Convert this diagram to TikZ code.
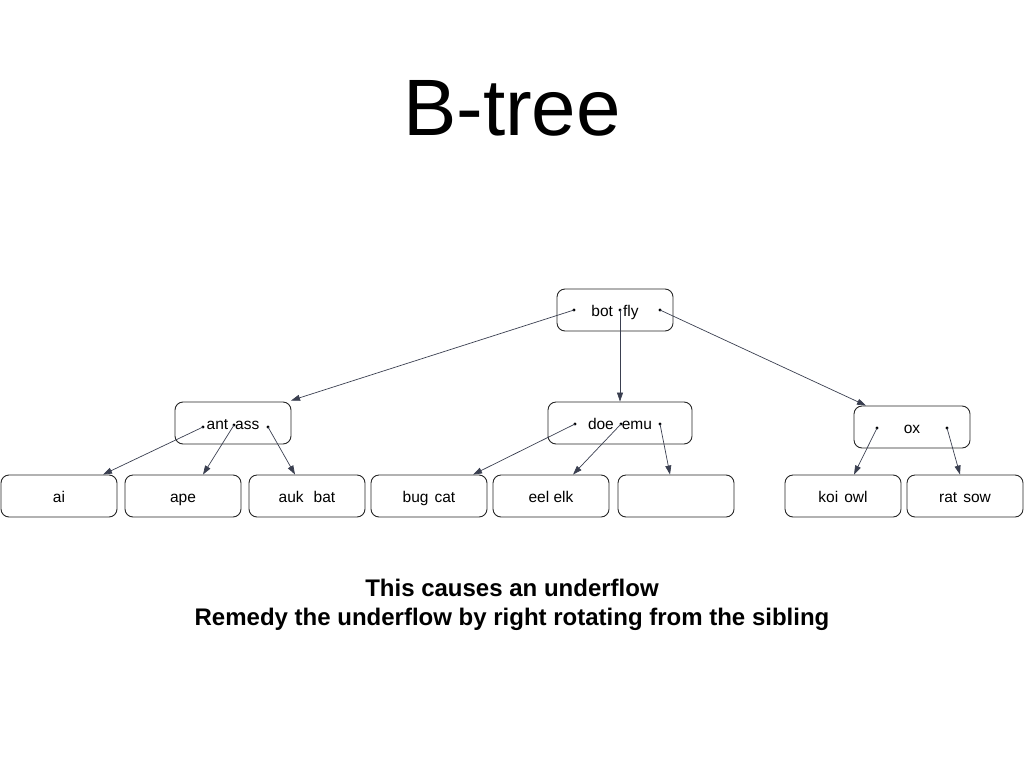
\documentclass[tikz,border=0pt]{standalone}
\usepackage{fontspec}
\setmainfont{Liberation Sans}
\usetikzlibrary{arrows.meta}
\definecolor{arr}{HTML}{3A3F50}
\tikzset{
  box/.style={draw=black!85, line width=0.9pt, rounded corners=8pt, minimum height=42pt, inner sep=0pt, text height=14pt, text depth=2pt, font=\fontsize{15.5}{17}\selectfont},
  leaf/.style={box, minimum width=116pt},
  ptr/.style={-{Triangle[length=9pt,width=6pt]}, line width=0.7pt, color=arr},
  pdot/.style={circle, fill=black, inner sep=0pt, minimum size=3.2pt}
}
\begin{document}
\begin{tikzpicture}[x=1pt,y=-1pt]
\useasboundingbox (0,0) rectangle (1024,768);
\node[font=\fontsize{80}{90}\selectfont] (title) at (512,108) {B-tree};
% internal nodes
\node[box, minimum width=116pt] (root) at (615,310) {bot\hspace{10pt}fly};
\node[box, minimum width=116pt] (na) at (233,423) {ant\hspace{7pt}ass\hspace{12pt}};
\node[box, minimum width=144pt] (nd) at (620,423) {doe\hspace{8pt}emu};
\node[box, minimum width=116pt] (no) at (912,427) {ox};
% leaves
\node[leaf] (ai) at (59,496) {ai};
\node[leaf] (ape) at (183,496) {ape};
\node[leaf] (aukbat) at (307,496) {auk\hspace{10pt}bat};
\node[leaf] (bugcat) at (429,496) {bug\hspace{6pt}cat};
\node[leaf] (eelelk) at (551,496) {eel elk};
\node[leaf] (empty) at (676,496) {};
\node[leaf] (koiowl) at (843,496) {koi\hspace{6pt}owl};
\node[leaf] (ratsow) at (965,496) {rat\hspace{6pt}sow};
% pointer dots
\node[pdot] (r1) at (574,310) {};
\node[pdot] (r2) at (620,310) {};
\node[pdot] (r3) at (660,310) {};
\node[pdot] (a1) at (203,427) {};
\node[pdot] (a2) at (234,425) {};
\node[pdot] (a3) at (268,427) {};
\node[pdot] (d1) at (575,424) {};
\node[pdot] (d2) at (621,424) {};
\node[pdot] (d3) at (660,424) {};
\node[pdot] (o1) at (877,428) {};
\node[pdot] (o2) at (947,428) {};
% connectors
\draw[ptr] (r1.center) -- ([xshift=58pt,yshift=1pt]na.north);
\draw[ptr] (r2.center) -- (nd.north);
\draw[ptr] (r3.center) -- ([xshift=-46pt]no.north);
\draw[ptr] (a1.center) -- ([xshift=44pt]ai.north);
\draw[ptr] (a2.center) -- ([xshift=20pt]ape.north);
\draw[ptr] (a3.center) -- ([xshift=-12pt]aukbat.north);
\draw[ptr] (d1.center) -- ([xshift=44pt]bugcat.north);
\draw[ptr] (d2.center) -- ([xshift=22pt]eelelk.north);
\draw[ptr] (d3.center) -- ([xshift=-6pt]empty.north);
\draw[ptr] (o1.center) -- ([xshift=11pt]koiowl.north);
\draw[ptr] (o2.center) -- ([xshift=-5pt]ratsow.north);
% caption
\node[font=\bfseries\fontsize{24}{29}\selectfont, align=center] (cap) at (512,605) {This causes an underflow\\Remedy the underflow by right rotating from the sibling};
\end{tikzpicture}
\end{document}
